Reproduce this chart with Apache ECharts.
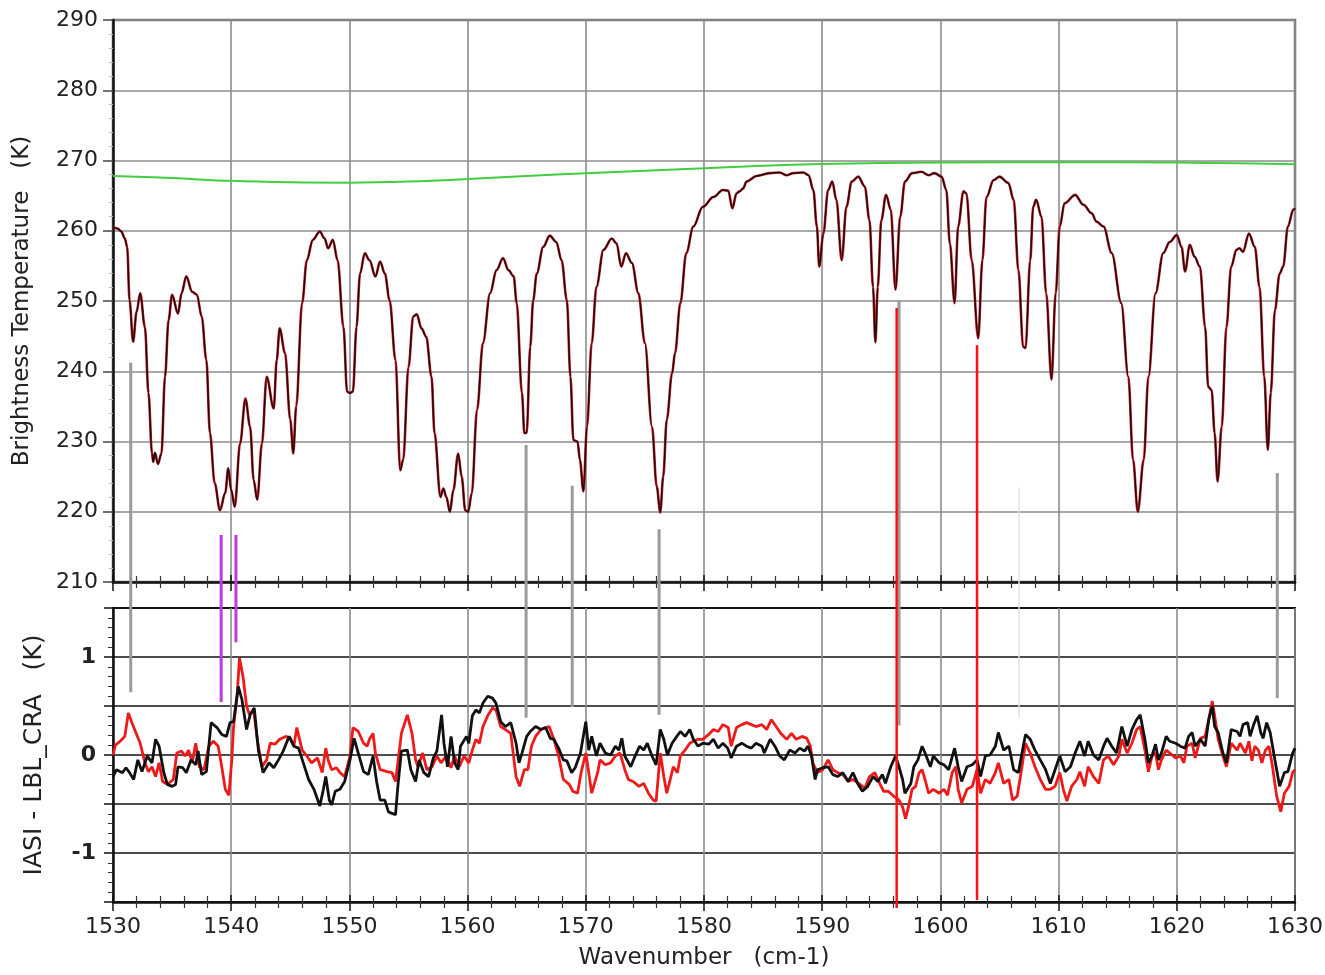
<!DOCTYPE html>
<html>
<head>
<meta charset="utf-8">
<script src="https://cdn.jsdelivr.net/npm/echarts@6/dist/echarts.min.js"></script>
<style>
  html, body { margin: 0; padding: 0; background: #fff; }
  #chart { width: 1325px; height: 975px; }
</style>
</head>
<body>
<div id="chart"></div>
<script>
// Brightness temperature spectrum (wavenumber cm-1, K)
const spectrumBT = [
  [1530.0,260.6],[1530.4,260.3],[1530.7,259.9],[1531.0,258.9],[1531.2,257.7],[1531.4,250.1],[1531.7,244.2],[1532.0,248.5],
  [1532.3,251.1],[1532.7,246.3],[1533.0,236.9],[1533.3,228.3],[1533.4,227.1],[1533.55,228.4],[1533.8,226.8],[1534.1,228.3],
  [1534.4,239.2],[1534.7,247.3],[1535.0,250.9],[1535.5,248.2],[1535.8,251.1],[1536.2,253.5],[1536.7,251.3],[1537.1,250.9],
  [1537.5,247.8],[1537.9,241.6],[1538.2,231.2],[1538.6,224.1],[1539.05,220.2],[1539.5,222.7],[1539.75,226.2],[1540.0,223.1],
  [1540.3,220.7],[1540.75,229.7],[1541.2,236.1],[1541.6,232.1],[1541.9,224.5],[1542.2,221.7],[1542.6,229.7],[1543.0,239.2],
  [1543.6,234.7],[1543.85,241.6],[1544.1,246.1],[1544.55,242.6],[1545.0,233.1],[1545.25,228.3],[1545.5,235.0],[1546.0,249.7],
  [1546.4,255.8],[1546.9,258.7],[1547.5,259.9],[1547.9,258.9],[1548.2,257.5],[1548.6,258.7],[1549.0,255.8],[1549.5,246.3],
  [1549.8,237.1],[1550.05,236.9],[1550.3,237.1],[1550.6,246.3],[1550.9,253.9],[1551.3,256.8],[1551.7,255.8],[1552.2,253.5],
  [1552.6,255.6],[1553.0,253.9],[1553.4,250.1],[1553.9,241.6],[1554.3,225.9],[1554.55,227.4],[1555.0,240.6],[1555.4,247.8],
  [1555.7,248.1],[1556.1,246.1],[1556.5,244.9],[1556.95,239.2],[1557.2,231.2],[1557.7,222.1],[1557.95,223.3],[1558.2,222.1],
  [1558.5,220.0],[1558.8,223.1],[1559.2,228.3],[1559.5,225.0],[1559.8,220.2],[1560.05,220.0],[1560.35,222.6],[1560.8,234.5],
  [1561.3,244.0],[1561.9,251.1],[1562.45,254.4],[1563.0,256.1],[1563.45,254.4],[1563.9,253.5],[1564.15,249.7],[1564.6,236.9],
  [1564.8,231.2],[1565.0,231.2],[1565.3,243.5],[1565.55,250.1],[1565.85,253.9],[1566.4,257.7],[1566.95,259.3],[1567.5,258.4],
  [1567.95,255.8],[1568.4,250.1],[1568.7,239.2],[1568.95,230.2],[1569.3,230.0],[1569.5,227.4],[1569.8,222.9],[1570.1,232.1],
  [1570.5,244.0],[1570.9,252.0],[1571.5,257.3],[1572.2,258.9],[1572.6,258.2],[1573.0,254.9],[1573.4,256.8],[1573.9,255.4],
  [1574.45,251.1],[1575.0,244.0],[1575.6,232.1],[1576.0,223.6],[1576.3,219.9],[1576.55,225.0],[1576.85,233.1],[1577.3,239.7],
  [1577.55,242.6],[1578.0,249.7],[1578.5,256.8],[1579.1,260.6],[1579.9,263.4],[1580.8,264.8],[1581.6,265.8],[1582.05,265.7],
  [1582.4,263.2],[1582.75,265.3],[1583.0,265.6],[1583.3,266.0],[1583.6,267.0],[1584.45,267.8],[1585.6,268.2],[1586.4,268.3],
  [1587.0,267.9],[1587.55,268.2],[1588.4,268.3],[1588.85,267.9],[1589.25,265.8],[1589.55,260.6],[1589.75,254.9],[1590.1,259.6],
  [1590.5,265.8],[1590.85,267.0],[1591.2,264.4],[1591.65,255.8],[1592.05,263.4],[1592.5,267.0],[1593.05,267.7],[1593.6,266.3],
  [1594.0,261.5],[1594.3,252.0],[1594.5,244.1],[1594.7,252.0],[1595.0,261.5],[1595.4,265.1],[1595.8,263.0],[1596.2,251.6],
  [1596.6,262.0],[1597.0,267.0],[1597.6,268.2],[1598.4,268.4],[1599.0,267.9],[1599.5,268.2],[1600.1,267.7],[1600.5,265.8],
  [1600.8,258.2],[1601.2,249.7],[1601.5,260.6],[1601.95,265.6],[1602.2,265.3],[1602.65,255.8],[1603.2,244.7],[1603.55,255.8],
  [1603.9,264.8],[1604.5,267.2],[1605.0,267.7],[1605.75,266.8],[1606.2,264.4],[1606.6,254.4],[1607.0,243.5],[1607.2,243.3],
  [1607.6,255.8],[1607.85,263.4],[1608.1,264.4],[1608.55,262.0],[1608.95,251.1],[1609.4,238.8],[1609.75,251.1],[1610.1,260.6],
  [1610.5,263.9],[1611.4,265.1],[1612.1,263.7],[1612.8,262.5],[1613.2,261.3],[1613.8,260.6],[1614.5,256.8],[1615.3,249.7],
  [1615.9,239.2],[1616.3,227.4],[1616.7,220.0],[1617.2,227.4],[1617.6,239.2],[1618.2,251.1],[1618.85,256.8],[1619.4,258.4],
  [1620.0,259.4],[1620.4,257.7],[1620.7,254.2],[1621.1,258.0],[1621.5,256.3],[1621.95,254.9],[1622.4,246.3],[1622.65,237.8],
  [1622.95,237.3],[1623.2,231.2],[1623.45,224.3],[1623.8,232.1],[1624.2,246.3],[1624.6,254.9],[1625.05,257.3],[1625.3,257.5],
  [1625.6,257.0],[1626.1,259.6],[1626.6,257.7],[1627.0,252.0],[1627.4,239.2],[1627.7,228.8],[1627.95,236.9],[1628.3,248.7],
  [1628.7,253.9],[1629.0,254.9],[1629.4,260.6],[1629.85,263.0],[1630.0,263.2]
];

// Surface / clear reference temperature (K)
const surfaceBT = [
  [1530,267.8],[1535,267.5],[1540,267.1],[1545,266.9],[1550,266.85],[1555,267.0],[1560,267.35],[1565,267.8],
  [1570,268.2],[1575,268.55],[1580,268.9],[1585,269.25],[1590,269.5],[1595,269.65],[1600,269.7],[1610,269.75],
  [1620,269.7],[1625,269.6],[1630,269.45]
];

// IASI minus LBL_CRA differences (K)
const diffBlack = [
  [1530.0,-0.22],[1530.3,-0.15],[1530.8,-0.18],[1531.1,-0.13],[1531.4,-0.18],[1531.75,-0.25],[1532.1,-0.05],[1532.45,-0.17],
  [1532.9,-0.01],[1533.3,-0.08],[1533.6,0.16],[1533.9,0.09],[1534.3,-0.18],[1534.6,-0.30],[1535.0,-0.32],[1535.3,-0.30],
  [1535.5,-0.12],[1535.9,-0.13],[1536.2,-0.18],[1536.6,-0.05],[1537.0,-0.10],[1537.2,0.04],[1537.5,-0.20],[1537.9,-0.17],
  [1538.3,0.33],[1538.8,0.28],[1539.2,0.21],[1539.6,0.19],[1539.9,0.33],[1540.2,0.34],[1540.6,0.70],[1540.9,0.57],
  [1541.3,0.26],[1541.6,0.41],[1541.95,0.48],[1542.3,0.05],[1542.7,-0.18],[1543.2,-0.08],[1543.6,-0.13],[1544.0,-0.05],
  [1544.4,0.04],[1544.9,0.19],[1545.3,0.09],[1545.7,0.07],[1546.1,-0.08],[1546.55,-0.25],[1547.0,-0.35],[1547.5,-0.52],
  [1547.8,-0.35],[1548.0,-0.22],[1548.3,-0.46],[1548.5,-0.51],[1548.8,-0.37],[1549.2,-0.35],[1549.6,-0.27],[1550.05,-0.05],
  [1550.4,0.17],[1550.75,0.02],[1551.2,-0.17],[1551.6,-0.20],[1552.0,-0.01],[1552.3,-0.27],[1552.6,-0.46],[1553.0,-0.46],
  [1553.3,-0.58],[1553.9,-0.61],[1554.1,-0.32],[1554.4,0.04],[1554.9,0.05],[1555.2,-0.15],[1555.6,-0.27],[1555.9,-0.05],
  [1556.3,-0.18],[1556.7,-0.22],[1557.1,-0.03],[1557.4,0.04],[1557.8,0.41],[1558.0,0.12],[1558.3,-0.12],[1558.6,0.19],
  [1558.9,-0.08],[1559.2,-0.15],[1559.4,0.09],[1559.9,0.19],[1560.1,0.12],[1560.4,0.40],[1560.7,0.46],[1561.0,0.43],
  [1561.3,0.53],[1561.7,0.60],[1562.1,0.58],[1562.4,0.53],[1562.8,0.34],[1563.2,0.29],[1563.65,0.33],[1564.1,0.12],
  [1564.35,-0.08],[1564.6,0.02],[1565.0,0.19],[1565.3,0.24],[1565.75,0.29],[1566.2,0.26],[1566.6,0.28],[1567.0,0.17],
  [1567.3,0.16],[1567.7,0.07],[1568.1,-0.05],[1568.4,-0.06],[1568.8,-0.18],[1569.1,-0.13],[1569.55,0.02],[1570.0,0.34],
  [1570.25,0.05],[1570.5,0.19],[1570.9,-0.01],[1571.2,0.12],[1571.65,0.02],[1572.1,0.0],[1572.5,0.09],[1572.8,0.05],
  [1573.05,0.17],[1573.3,-0.01],[1573.8,-0.12],[1574.1,-0.03],[1574.55,0.09],[1574.9,0.05],[1575.2,0.12],[1575.6,-0.01],
  [1575.95,-0.10],[1576.3,0.26],[1576.6,0.16],[1576.9,0.0],[1577.3,0.12],[1577.7,0.19],[1578.0,0.24],[1578.4,0.19],
  [1578.8,0.26],[1579.1,0.16],[1579.5,0.09],[1579.9,0.12],[1580.4,0.11],[1580.8,0.16],[1581.2,0.07],[1581.6,0.12],
  [1582.0,0.07],[1582.3,-0.03],[1582.75,0.09],[1583.2,0.12],[1583.6,0.09],[1584.0,0.07],[1584.4,0.12],[1584.9,0.09],
  [1585.1,0.02],[1585.6,0.16],[1586.0,0.09],[1586.4,-0.01],[1586.8,-0.05],[1587.25,0.05],[1587.7,0.02],[1588.1,0.07],
  [1588.5,0.04],[1588.8,0.09],[1589.1,-0.01],[1589.4,-0.25],[1589.6,-0.15],[1590.05,-0.13],[1590.5,-0.12],[1590.9,-0.20],
  [1591.3,-0.22],[1591.75,-0.18],[1592.2,-0.27],[1592.6,-0.18],[1593.0,-0.29],[1593.4,-0.37],[1593.85,-0.32],[1594.3,-0.22],
  [1594.7,-0.27],[1595.1,-0.20],[1595.35,-0.29],[1595.8,-0.12],[1596.2,-0.01],[1596.5,-0.12],[1596.8,-0.25],[1597.0,-0.39],
  [1597.5,-0.29],[1597.75,-0.12],[1598.1,-0.05],[1598.45,0.09],[1598.7,0.02],[1599.15,-0.12],[1599.4,-0.01],[1599.9,-0.08],
  [1600.3,-0.10],[1600.7,-0.15],[1601.2,0.07],[1601.5,-0.12],[1601.8,-0.27],[1602.25,-0.12],[1602.7,-0.10],[1603.1,-0.05],
  [1603.4,-0.22],[1603.8,-0.01],[1604.2,0.0],[1604.65,0.09],[1604.9,0.23],[1605.35,0.05],[1605.8,0.09],[1606.2,-0.15],
  [1606.6,-0.18],[1606.9,0.02],[1607.2,0.21],[1607.6,0.16],[1608.0,0.05],[1608.45,-0.05],[1608.9,-0.15],[1609.3,-0.29],
  [1609.7,-0.15],[1610.1,-0.01],[1610.55,-0.17],[1611.0,-0.12],[1611.4,0.02],[1611.8,0.14],[1612.2,-0.01],[1612.5,0.14],
  [1612.95,0.0],[1613.4,-0.05],[1613.8,0.09],[1614.1,0.17],[1614.5,0.09],[1614.9,0.02],[1615.35,0.29],[1615.8,0.09],
  [1616.2,0.26],[1616.6,0.36],[1616.9,0.41],[1617.3,0.16],[1617.6,-0.08],[1617.9,-0.01],[1618.2,0.11],[1618.45,-0.05],
  [1618.7,0.02],[1619.1,0.19],[1619.4,0.14],[1619.9,0.12],[1620.3,0.09],[1620.7,0.07],[1621.0,0.19],[1621.3,0.23],
  [1621.55,0.09],[1622.0,0.16],[1622.4,0.09],[1622.7,0.36],[1623.0,0.50],[1623.2,0.29],[1623.5,0.23],[1623.9,0.02],
  [1624.2,-0.08],[1624.6,0.26],[1625.1,0.24],[1625.35,0.19],[1625.6,0.31],[1626.0,0.33],[1626.2,0.19],[1626.5,0.31],
  [1626.8,0.40],[1627.1,0.23],[1627.3,0.17],[1627.6,0.33],[1627.9,0.23],[1628.3,-0.05],[1628.7,-0.32],[1629.1,-0.18],
  [1629.4,-0.17],[1629.8,0.02],[1630.0,0.07]
];

const diffRed = [
  [1530.0,0.0],[1530.2,0.1],[1530.6,0.14],[1531.0,0.19],[1531.3,0.43],[1531.6,0.33],[1532.0,0.21],[1532.3,0.12],
  [1532.7,-0.08],[1533.0,-0.17],[1533.3,-0.12],[1533.6,-0.22],[1533.9,-0.08],[1534.2,-0.27],[1534.6,-0.30],[1535.1,-0.25],
  [1535.4,0.02],[1535.8,0.04],[1536.1,-0.01],[1536.4,0.05],[1536.7,-0.08],[1537.0,0.12],[1537.3,-0.12],[1537.7,-0.15],
  [1538.1,0.09],[1538.5,0.14],[1538.9,0.09],[1539.2,-0.12],[1539.5,-0.35],[1539.8,-0.41],[1540.05,-0.05],[1540.2,0.29],
  [1540.5,0.60],[1540.7,0.99],[1541.0,0.80],[1541.3,0.50],[1541.55,0.41],[1541.9,0.46],[1542.2,0.16],[1542.6,-0.12],
  [1543.0,-0.05],[1543.3,0.12],[1543.7,0.11],[1544.1,0.16],[1544.6,0.19],[1545.0,0.17],[1545.3,0.09],[1545.55,0.28],
  [1546.0,0.05],[1546.4,-0.01],[1546.8,-0.08],[1547.3,-0.03],[1547.7,-0.18],[1548.0,0.07],[1548.2,-0.05],[1548.5,-0.15],
  [1548.9,-0.13],[1549.2,-0.18],[1549.6,-0.22],[1550.05,-0.01],[1550.3,0.28],[1550.75,0.24],[1551.2,0.12],[1551.5,0.09],
  [1551.7,0.16],[1552.0,0.22],[1552.2,0.02],[1552.6,-0.15],[1553.2,-0.17],[1553.6,-0.18],[1553.9,-0.27],[1554.1,-0.08],
  [1554.4,0.22],[1554.9,0.41],[1555.3,0.22],[1555.6,-0.05],[1555.8,-0.12],[1556.2,0.02],[1556.55,-0.15],[1557.0,-0.12],
  [1557.4,-0.01],[1557.75,-0.08],[1558.2,-0.01],[1558.6,-0.13],[1558.9,-0.01],[1559.3,-0.12],[1559.7,-0.01],[1560.1,-0.08],
  [1560.4,0.05],[1560.7,0.16],[1561.0,0.12],[1561.3,0.29],[1561.7,0.40],[1562.1,0.48],[1562.4,0.46],[1562.8,0.29],
  [1563.2,0.26],[1563.65,0.22],[1564.1,-0.22],[1564.4,-0.32],[1564.8,-0.15],[1565.1,-0.15],[1565.4,0.09],[1565.75,0.19],
  [1566.2,0.26],[1566.6,0.28],[1566.9,0.29],[1567.3,0.16],[1567.7,-0.01],[1568.1,-0.25],[1568.6,-0.30],[1568.9,-0.37],
  [1569.3,-0.39],[1569.6,-0.18],[1570.0,0.02],[1570.25,-0.18],[1570.5,-0.39],[1571.0,-0.18],[1571.2,-0.05],[1571.65,-0.10],
  [1572.1,-0.08],[1572.5,-0.01],[1572.9,0.02],[1573.3,-0.15],[1573.6,-0.25],[1574.0,-0.27],[1574.5,-0.32],[1574.9,-0.29],
  [1575.3,-0.39],[1575.7,-0.46],[1575.95,-0.47],[1576.3,0.02],[1576.6,-0.22],[1576.85,-0.39],[1577.1,-0.27],[1577.4,-0.12],
  [1577.75,-0.18],[1578.0,-0.01],[1578.4,0.05],[1578.8,0.12],[1579.1,0.14],[1579.5,0.16],[1579.9,0.16],[1580.4,0.21],
  [1580.8,0.26],[1581.2,0.24],[1581.6,0.31],[1582.05,0.28],[1582.3,0.09],[1582.75,0.28],[1583.2,0.31],[1583.6,0.33],
  [1584.0,0.31],[1584.4,0.29],[1584.9,0.31],[1585.3,0.26],[1585.7,0.36],[1586.1,0.29],[1586.5,0.22],[1587.0,0.16],
  [1587.4,0.22],[1587.8,0.16],[1588.3,0.19],[1588.7,0.17],[1589.0,0.09],[1589.2,-0.08],[1589.6,-0.18],[1590.05,-0.15],
  [1590.5,-0.05],[1590.9,-0.15],[1591.3,-0.18],[1591.75,-0.20],[1592.2,-0.27],[1592.6,-0.25],[1593.2,-0.30],[1593.6,-0.34],
  [1594.0,-0.22],[1594.45,-0.18],[1594.9,-0.30],[1595.2,-0.37],[1595.6,-0.37],[1596.05,-0.42],[1596.5,-0.46],[1596.8,-0.53],
  [1597.05,-0.65],[1597.3,-0.53],[1597.6,-0.35],[1597.9,-0.32],[1598.2,-0.18],[1598.45,-0.15],[1598.7,-0.25],[1599.0,-0.39],
  [1599.4,-0.35],[1599.9,-0.39],[1600.3,-0.35],[1600.6,-0.41],[1601.0,-0.18],[1601.3,-0.12],[1601.5,-0.35],[1601.8,-0.49],
  [1602.25,-0.35],[1602.7,-0.32],[1603.1,-0.15],[1603.4,-0.39],[1603.8,-0.25],[1604.2,-0.29],[1604.65,-0.18],[1604.9,-0.08],
  [1605.35,-0.29],[1605.8,-0.25],[1606.1,-0.46],[1606.5,-0.42],[1606.9,-0.12],[1607.2,0.12],[1607.6,0.02],[1608.0,-0.12],
  [1608.45,-0.25],[1608.9,-0.35],[1609.3,-0.35],[1609.7,-0.32],[1610.1,-0.18],[1610.4,-0.35],[1610.7,-0.47],[1611.1,-0.32],
  [1611.55,-0.25],[1611.8,-0.17],[1612.2,-0.32],[1612.5,-0.12],[1612.95,-0.22],[1613.4,-0.29],[1613.8,-0.05],[1614.2,-0.01],
  [1614.65,-0.10],[1615.1,-0.01],[1615.35,0.16],[1615.8,0.02],[1616.2,0.12],[1616.6,0.26],[1616.9,0.29],[1617.3,0.05],
  [1617.6,-0.17],[1617.9,-0.01],[1618.2,0.02],[1618.45,-0.15],[1618.7,-0.05],[1619.1,0.05],[1619.4,0.02],[1619.9,-0.03],
  [1620.3,-0.01],[1620.6,-0.08],[1620.85,0.09],[1621.3,0.12],[1621.55,-0.03],[1622.0,0.17],[1622.4,0.19],[1622.7,0.36],
  [1623.0,0.55],[1623.2,0.40],[1623.5,0.16],[1623.9,-0.01],[1624.2,-0.12],[1624.6,0.12],[1625.1,0.05],[1625.35,0.12],
  [1625.8,0.02],[1626.1,0.14],[1626.35,-0.06],[1626.6,0.09],[1626.9,0.05],[1627.2,-0.08],[1627.5,0.05],[1627.8,0.09],
  [1628.1,-0.12],[1628.45,-0.42],[1628.8,-0.58],[1629.1,-0.39],[1629.5,-0.32],[1629.8,-0.18],[1630.0,-0.15]
];

// Channel markers: wavenumber, upper end (K, top panel), lower end (K difference, bottom panel), kind
const markerWave   = [1531.5, 1539.15, 1540.4, 1564.95, 1568.85, 1576.2, 1596.5, 1596.3, 1603.1, 1606.65, 1628.5];
const markerTopK   = [241.2, 216.7, 216.7, 229.5, 223.7, 217.5, 250.1, 249.0, 243.7, 223.5, 225.5];
const markerBotK   = [0.64, 0.54, 1.15, 0.38, 0.49, 0.41, 0.30, -1.56, -1.48, 0.38, 0.58];
const markerKind   = ['grey','violet','violet','grey','grey','grey','grey','red','red','faint','grey'];

const xTicks = { min: 1530, max: 1630, interval: 10 };
const btTicks = { min: 210, max: 290, interval: 10 };
const diffTicks = { min: -1.5, max: 1.5, interval: 0.5 };

const markerStyle = {
  grey:   { stroke: '#9a9a9a', lineWidth: 3 },
  violet: { stroke: '#c23ad8', lineWidth: 3 },
  red:    { stroke: '#ff1010', lineWidth: 2.5 },
  faint:  { stroke: '#e2e2e2', lineWidth: 1.5 }
};

const FONT = 'DejaVu Sans';
const chart = echarts.init(document.getElementById('chart'), null, { renderer: 'canvas' });

const gridTop = { left: 113, right: 30, top: 20, height: 562 };
const gridBot = { left: 113, right: 30, top: 608, height: 294 };

function xAxisPair(gridIndex, withLabels) {
  const base = {
    type: 'value', gridIndex, position: 'bottom',
    min: xTicks.min, max: xTicks.max, interval: xTicks.interval
  };
  return [
    Object.assign({}, base, {
      axisLine: { show: true, onZero: false, lineStyle: { color: '#111', width: 2.5 } },
      axisTick: { show: true, inside: false, length: 9, lineStyle: { color: '#111', width: 1.5 } },
      minorTick: { show: true, splitNumber: 5, length: 6, lineStyle: { color: '#333', width: 1.2 } },
      axisLabel: withLabels
        ? { show: true, margin: 14, fontFamily: FONT, fontSize: 22, color: '#222', formatter: v => String(v) }
        : { show: false },
      splitLine: { show: true, lineStyle: { color: '#8c8c8c', width: 1.6 } },
      name: withLabels ? 'Wavenumber   (cm-1)' : '',
      nameLocation: 'middle', nameGap: 45,
      nameTextStyle: { fontFamily: FONT, fontSize: 23, color: '#222' }
    }),
    Object.assign({}, base, {
      axisLine: { show: false, onZero: false },
      axisTick: { show: true, inside: true, length: 7, lineStyle: { color: '#111', width: 1.5 } },
      minorTick: { show: true, splitNumber: 5, length: 6, lineStyle: { color: '#333', width: 1.2 } },
      axisLabel: { show: false },
      splitLine: { show: false }
    })
  ];
}

const option = {
  animation: false,
  backgroundColor: '#fff',
  grid: [
    Object.assign({ show: true, borderColor: '#6a6a6a', borderWidth: 2.5, backgroundColor: 'transparent',
      containLabel: false, outerBoundsMode: 'none' }, gridTop),
    Object.assign({ show: true, borderColor: '#222', borderWidth: 2, backgroundColor: 'transparent',
      containLabel: false, outerBoundsMode: 'none' }, gridBot)
  ],
  xAxis: [].concat(xAxisPair(0, false), xAxisPair(1, true)),
  yAxis: [
    {
      type: 'value', gridIndex: 0,
      min: btTicks.min, max: btTicks.max, interval: btTicks.interval,
      axisLine: { show: true, onZero: false, lineStyle: { color: '#111', width: 2.5 } },
      axisTick: { show: true, length: 10, lineStyle: { color: '#444', width: 1.5 } },
      minorTick: { show: true, splitNumber: 5, length: 4, lineStyle: { color: '#bbb', width: 1 } },
      axisLabel: { margin: 15, fontFamily: FONT, fontSize: 22, color: '#222' },
      splitLine: { show: true, lineStyle: { color: '#8c8c8c', width: 1.6 } },
      name: 'Brightness Temperature   (K)',
      nameLocation: 'middle', nameGap: 79, nameRotate: 90,
      nameTextStyle: { fontFamily: FONT, fontSize: 23, color: '#222' }
    },
    {
      type: 'value', gridIndex: 1,
      min: diffTicks.min, max: diffTicks.max, interval: diffTicks.interval,
      axisLine: { show: true, onZero: false, lineStyle: { color: '#111', width: 2.5 } },
      axisTick: { show: true, length: 9, lineStyle: { color: '#111', width: 1.5 } },
      minorTick: { show: true, splitNumber: 5, length: 5, lineStyle: { color: '#333', width: 1 } },
      axisLabel: {
        margin: 17, fontFamily: FONT, fontSize: 22, fontWeight: 'bold', color: '#222',
        formatter: v => (Math.abs(v - Math.round(v)) < 1e-9 && Math.abs(v) <= 1) ? String(Math.round(v)) : ''
      },
      splitLine: { show: true, lineStyle: { color: '#111', width: 1.6 } },
      name: 'IASI - LBL_CRA   (K)',
      nameLocation: 'middle', nameGap: 66, nameRotate: 90,
      nameTextStyle: { fontFamily: FONT, fontSize: 25, color: '#222' }
    }
  ],
  series: [
    {
      type: 'line', xAxisIndex: 0, yAxisIndex: 0, data: surfaceBT,
      showSymbol: false, smooth: 0.4, lineStyle: { color: '#3fcf3f', width: 2 }, z: 3
    },
    {
      type: 'line', xAxisIndex: 0, yAxisIndex: 0, data: spectrumBT,
      showSymbol: false, smooth: 0.35, smoothMonotone: 'x',
      lineStyle: { color: '#d0202a', width: 2.6 }, z: 3
    },
    {
      type: 'line', xAxisIndex: 0, yAxisIndex: 0, data: spectrumBT,
      showSymbol: false, smooth: 0.35, smoothMonotone: 'x',
      lineStyle: { color: '#1a0c0c', width: 1.5 }, z: 4
    },
    {
      type: 'line', xAxisIndex: 2, yAxisIndex: 1, data: diffRed,
      showSymbol: false, lineStyle: { color: '#ee1a1a', width: 2.8 }, z: 3
    },
    {
      type: 'line', xAxisIndex: 2, yAxisIndex: 1, data: diffBlack,
      showSymbol: false, lineStyle: { color: '#111', width: 2.8 }, z: 4
    }
  ]
};

chart.setOption(option);

// Vertical channel markers spanning both panels, placed through the axis scales
const markerGraphics = markerWave.map((wn, i) => {
  const p1 = chart.convertToPixel({ xAxisIndex: 0, yAxisIndex: 0 }, [wn, markerTopK[i]]);
  const p2 = chart.convertToPixel({ xAxisIndex: 2, yAxisIndex: 1 }, [wn, markerBotK[i]]);
  return {
    type: 'line', silent: true, z: 100,
    shape: { x1: p1[0], y1: p1[1], x2: p2[0], y2: p2[1] },
    style: markerStyle[markerKind[i]]
  };
});
chart.setOption({ graphic: markerGraphics });
</script>
</body>
</html>
